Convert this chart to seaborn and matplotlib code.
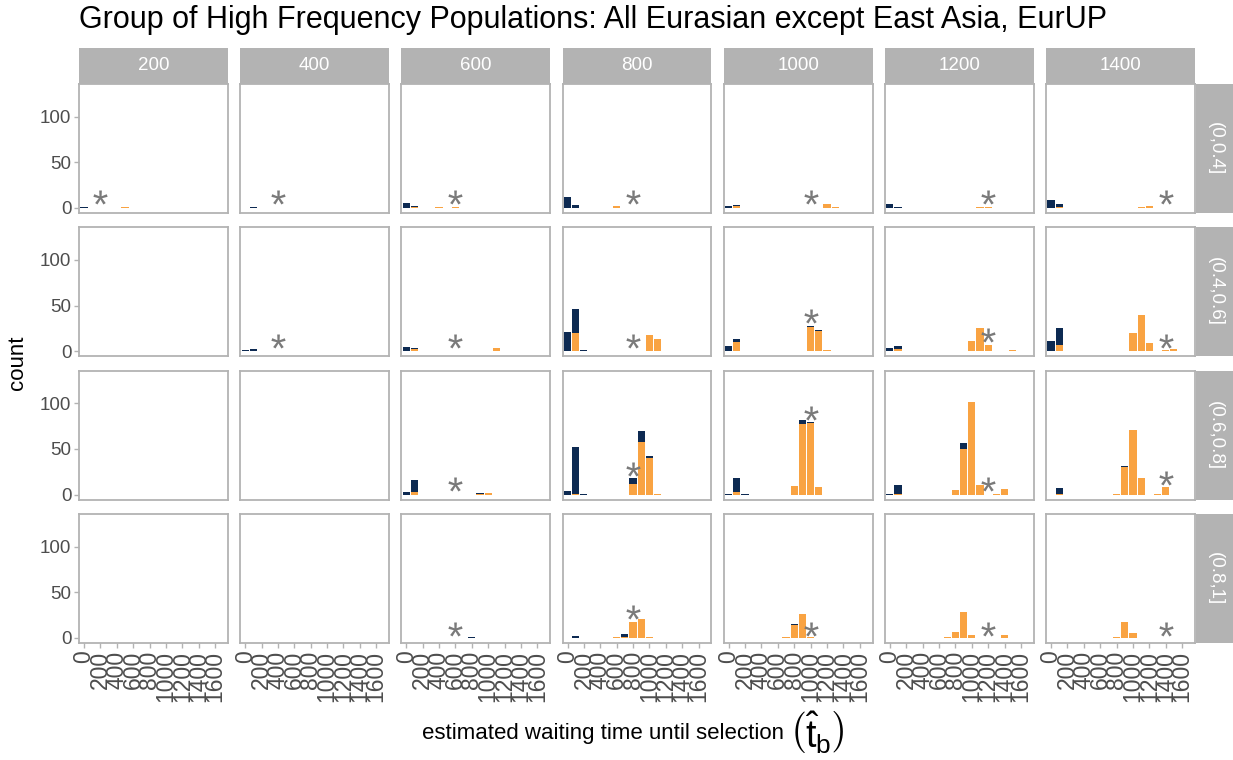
import numpy as np
import pandas as pd
import matplotlib
matplotlib.use("Agg")
import matplotlib.pyplot as plt
from matplotlib.patches import Rectangle
import seaborn as sns

# ---------------- data ----------------
title = "Group of High Frequency Populations: All Eurasian except East Asia, EurUP"
col_values = [200, 400, 600, 800, 1000, 1200, 1400]
row_labels = ["(0,0.4]", "(0.4,0.6]", "(0.6,0.8]", "(0.8,1]"]
x_ticks = [0, 200, 400, 600, 800, 1000, 1200, 1400, 1600]
y_ticks = [0, 50, 100]
groups = ["navy", "orange"]
x_title = "estimated waiting time until selection"
x_title_math = r"$\left(\hat{\mathsf{t}}_{\mathsf{b}}\right)$"
y_title = "count"

# (facet column, bin centre, count)
r1_navy = [(200, 0, 1), (400, 100, 1), (600, 0, 5), (600, 100, 1), (800, 0, 12), (800, 100, 3),
           (1000, 0, 2), (1000, 100, 1), (1200, 0, 4), (1200, 100, 1), (1400, 0, 9), (1400, 100, 3)]
r1_orange = [(200, 500, 1), (600, 100, 1), (600, 400, 1), (600, 600, 1), (800, 600, 2),
             (1000, 100, 2), (1000, 1200, 4), (1000, 1300, 1), (1200, 1100, 1), (1200, 1200, 1),
             (1400, 100, 1), (1400, 1100, 1), (1400, 1200, 2)]

r2_navy = [(400, 0, 1), (400, 100, 2), (600, 0, 5), (600, 100, 1), (800, 0, 21), (800, 100, 26),
           (800, 200, 1), (1000, 0, 6), (1000, 100, 4), (1000, 1000, 1), (1000, 1100, 1),
           (1200, 0, 4), (1200, 100, 4), (1400, 0, 11), (1400, 100, 18)]
r2_orange = [(600, 100, 3), (600, 1100, 4), (800, 100, 20), (800, 1000, 18), (800, 1100, 13),
             (1000, 100, 10), (1000, 1000, 27), (1000, 1100, 22), (1000, 1200, 1),
             (1200, 100, 2), (1200, 1000, 11), (1200, 1100, 25), (1200, 1200, 7), (1200, 1500, 1),
             (1400, 100, 7), (1400, 1000, 20), (1400, 1100, 40), (1400, 1200, 9),
             (1400, 1400, 1), (1400, 1500, 2)]

r3_navy = [(600, 0, 3), (600, 100, 13), (600, 900, 1), (800, 0, 4), (800, 100, 51), (800, 200, 1),
           (800, 800, 6), (800, 900, 12), (800, 1000, 2), (1000, 0, 1), (1000, 100, 15),
           (1000, 200, 1), (1000, 800, 1), (1000, 900, 5), (1000, 1000, 1), (1200, 0, 1),
           (1200, 100, 10), (1200, 900, 7), (1400, 100, 6), (1400, 900, 1)]
r3_orange = [(600, 100, 3), (600, 900, 1), (600, 1000, 2), (800, 100, 1), (800, 800, 12),
             (800, 900, 58), (800, 1000, 40), (800, 1100, 1), (1000, 100, 3), (1000, 800, 9),
             (1000, 900, 77), (1000, 1000, 78), (1000, 1100, 8), (1200, 100, 1), (1200, 800, 5),
             (1200, 900, 50), (1200, 1000, 101), (1200, 1100, 11), (1200, 1300, 1), (1200, 1400, 6),
             (1400, 100, 1), (1400, 800, 1), (1400, 900, 30), (1400, 1000, 71), (1400, 1100, 18),
             (1400, 1300, 1), (1400, 1400, 8)]

r4_navy = [(600, 800, 1), (800, 100, 2), (800, 700, 3), (1000, 800, 1)]
r4_orange = [(800, 600, 1), (800, 700, 1), (800, 800, 17), (800, 900, 21), (800, 1000, 1),
             (1000, 700, 1), (1000, 800, 14), (1000, 900, 26), (1000, 1000, 1),
             (1200, 700, 1), (1200, 800, 6), (1200, 900, 28), (1200, 1000, 3), (1200, 1400, 3),
             (1400, 800, 1), (1400, 900, 18), (1400, 1000, 5)]

# asterisks (true waiting time): row index, facet column, height
star_row = [0, 0, 0, 0, 0, 0, 0, 1, 1, 1, 1, 1, 1, 2, 2, 2, 2, 2, 3, 3, 3, 3, 3]
star_col = [200, 400, 600, 800, 1000, 1200, 1400, 400, 600, 800, 1000, 1200, 1400,
            600, 800, 1000, 1200, 1400, 600, 800, 1000, 1200, 1400]
star_y = [11.5, 11.5, 11.5, 11.5, 11.5, 11.5, 11.5, 11, 11, 11, 38.5, 18, 11,
          11.5, 28.5, 89, 11.5, 18.5, 10, 28, 10, 10, 10]

# ---------------- table ----------------
recs = []
for ri, (nv, og) in enumerate([(r1_navy, r1_orange), (r2_navy, r2_orange),
                               (r3_navy, r3_orange), (r4_navy, r4_orange)]):
    for grp, lst in (("navy", nv), ("orange", og)):
        for c, b, n in lst:
            recs.append(dict(row=row_labels[ri], col=c, x=b, n=n, grp=grp))
df = pd.DataFrame(recs)
stars = pd.DataFrame(dict(row=[row_labels[i] for i in star_row], col=star_col, y=star_y))

# ---------------- style ----------------
sns.set_theme(style="white")
plt.rcParams["font.family"] = ["Liberation Sans", "DejaVu Sans"]
plt.rcParams["mathtext.fontset"] = "custom"
plt.rcParams["mathtext.rm"] = "Liberation Sans"
plt.rcParams["mathtext.sf"] = "Liberation Sans"
plt.rcParams["mathtext.it"] = "Liberation Sans:italic"

NAVY = "#0d2a52"
ORANGE = "#f9a342"
GRAY = "#b3b3b3"
TXT = "#4d4d4d"
STAR = "#7a7a7a"
palette = {"navy": NAVY, "orange": ORANGE}

W, H = 1233, 760
fig, axes = plt.subplots(4, 7, figsize=(W / 100, H / 100), dpi=100, sharex=True, sharey=True)
fig.subplots_adjust(left=79 / W, right=1195 / W, top=1 - 84 / H, bottom=1 - 643 / H,
                    wspace=12.2 / 149, hspace=14.3 / 129)

panel_w, panel_h = 149.0, 129.0
for ri, rl in enumerate(row_labels):
    for ci, cv in enumerate(col_values):
        ax = axes[ri, ci]
        sub = df[(df.row == rl) & (df.col == cv)]
        if len(sub):
            sns.histplot(data=sub, x="x", weights="n", hue="grp", hue_order=groups,
                         palette=palette, multiple="stack", binwidth=100, binrange=(-50, 1650),
                         shrink=0.88, linewidth=0, alpha=1, legend=False, ax=ax)
        st = stars[(stars.row == rl) & (stars.col == cv)]
        if len(st):
            sns.scatterplot(data=st, x="col", y="y", marker="$*$", s=105, color=STAR,
                            linewidth=0, legend=False, ax=ax, zorder=5)
        ax.set_xlim(-61, 1758)
        ax.set_ylim(-5.5, 135.7)
        ax.set_xticks(x_ticks)
        ax.set_yticks(y_ticks)
        ax.set_xlabel("")
        ax.set_ylabel("")
        ax.set_facecolor("white")
        for sp in ax.spines.values():
            sp.set_color(GRAY)
            sp.set_linewidth(1.3)
            sp.set_visible(True)
        ax.tick_params(axis="both", which="both", color=GRAY, labelcolor=TXT, length=3.5,
                       width=1.0, labelsize=13.5, pad=2,
                       bottom=(ri == 3), left=(ci == 0))
        ax.tick_params(axis="x", labelrotation=90, labelsize=16.5)
        # column strip
        if ri == 0:
            ax.add_patch(Rectangle((0, 1), 1, 36 / panel_h, transform=ax.transAxes,
                                   facecolor=GRAY, edgecolor="none", clip_on=False))
            ax.text(0.5, 1 + 18 / panel_h, str(cv), transform=ax.transAxes, ha="center",
                    va="center", color="white", fontsize=13.5)
        # row strip
        if ci == 6:
            ax.add_patch(Rectangle((1 + 1.5 / panel_w, 0), 38 / panel_w, 1, transform=ax.transAxes,
                                   facecolor=GRAY, edgecolor="none", clip_on=False))
            ax.text(1 + 20 / panel_w, 0.5, rl, transform=ax.transAxes, ha="center",
                    va="center", color="white", fontsize=13.5, rotation=-90)

fig.text(79 / W, 1 - 20 / H, title, ha="left", va="center", fontsize=22, color="black")
fig.text(18 / W, 1 - 363 / H, y_title, ha="center", va="center", rotation=90,
         fontsize=16, color="black")
t1 = fig.text(422 / W, 1 - 733 / H, x_title, ha="left", va="center", fontsize=16, color="black")
fig.canvas.draw()
bb = t1.get_window_extent()
fig.text((bb.x1 + 5) / W, 1 - 733 / H, x_title_math, ha="left", va="center",
         fontsize=27, color="black")

fig.savefig("out.png", dpi=100)
